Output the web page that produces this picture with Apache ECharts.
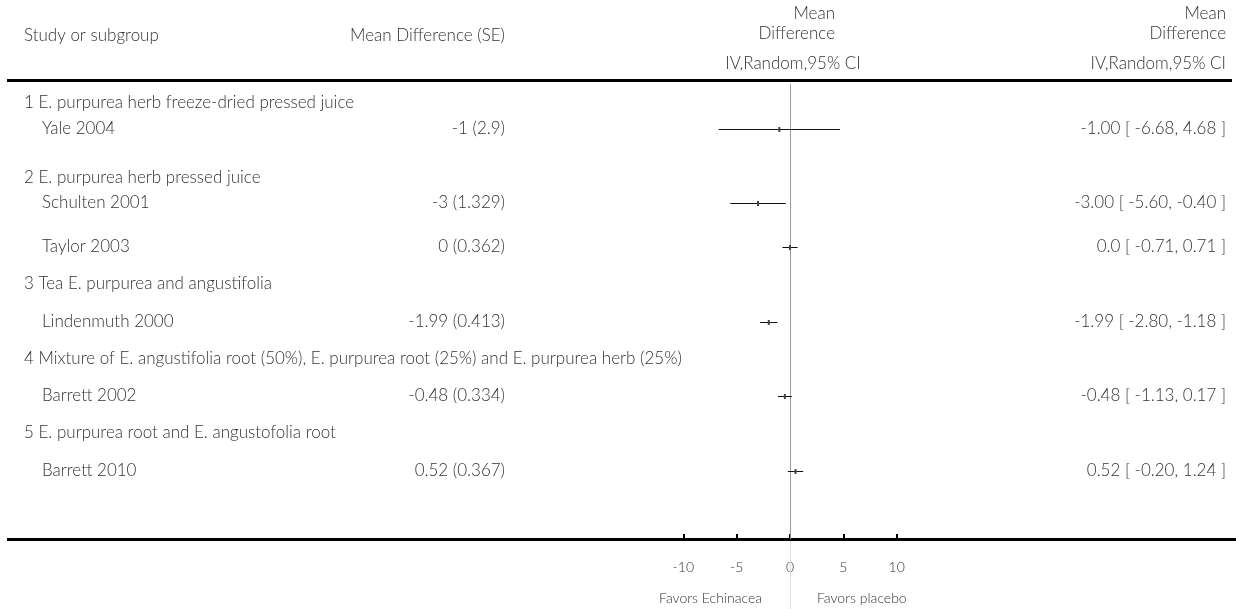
<!DOCTYPE html>
<html><head><meta charset="utf-8">
<script src="https://cdn.jsdelivr.net/npm/echarts@6/dist/echarts.min.js"></script>
<style>html,body{margin:0;padding:0;background:#fff}#chart{width:1236px;height:609px}</style>
</head><body><div id="chart"></div>
<script>
// ---------------- data ----------------
const groupNames = [
  '1 E. purpurea herb freeze-dried pressed juice',
  '2 E. purpurea herb pressed juice',
  '3 Tea E. purpurea and angustifolia',
  '4 Mixture of E. angustifolia root (50%), E. purpurea root (25%) and E. purpurea herb (25%)',
  '5 E. purpurea root and E. angustofolia root'
];
const studyNames = ['Yale 2004', 'Schulten 2001', 'Taylor 2003', 'Lindenmuth 2000', 'Barrett 2002', 'Barrett 2010'];
const studyGroup = [0, 1, 1, 2, 3, 4];
const meanDiff = [-1, -3, 0, -1.99, -0.48, 0.52];
const stdErr = [2.9, 1.329, 0.362, 0.413, 0.334, 0.367];
const ciLow = [-6.68, -5.60, -0.71, -2.80, -1.13, -0.20];
const ciHigh = [4.68, -0.40, 0.71, -1.18, 0.17, 1.24];
const ciText = ['-1.00 [ -6.68, 4.68 ]', '-3.00 [ -5.60, -0.40 ]', '0.0 [ -0.71, 0.71 ]',
                '-1.99 [ -2.80, -1.18 ]', '-0.48 [ -1.13, 0.17 ]', '0.52 [ -0.20, 1.24 ]'];
const xTicks = [-10, -5, 0, 5, 10];

// ---------------- layout ----------------
const FONT = 'Lato, "Open Sans", sans-serif';
const TXT = '#333333';
const BODY = '300 17px ' + FONT;
const SMALL = '300 14px ' + FONT;
const GRID_TOP = 84, GRID_BOTTOM_Y = 539;
// vertical gaps between consecutive rows (pixels on the y scale)
const FIRST_ROW = 103;
const ROW_GAPS = [25.5, 49.5, 25, 44, 37, 37.5, 37.5, 37, 37, 37.5];

const headerRows = [], studyRows = [];
let y = FIRST_ROW, r = 0;
const nextY = () => { if (r > 0) y += ROW_GAPS[r - 1]; r++; return y; };
groupNames.forEach((g, k) => {
  headerRows.push([0, nextY(), k]);
  studyNames.forEach((s, i) => {
    if (studyGroup[i] !== k) return;
    studyRows.push([meanDiff[i], nextY(), ciLow[i], ciHigh[i], i]);
  });
});

const chart = echarts.init(document.getElementById('chart'), null, {renderer: 'canvas'});
const txt = (extra) => Object.assign({fill: TXT, font: BODY, verticalAlign: 'middle'}, extra);

const option = {
  animation: false,
  backgroundColor: '#fff',
  grid: {left: 683.333, right: 1236 - 896.667, top: GRID_TOP, bottom: 609 - GRID_BOTTOM_Y, containLabel: false},
  xAxis: {
    type: 'value', min: xTicks[0], max: xTicks[xTicks.length - 1], interval: 5,
    axisLine: {show: false},
    axisTick: {show: true, inside: true, length: 5, lineStyle: {color: '#000', width: 2}},
    axisLabel: {margin: 21, color: TXT, fontSize: 14, fontWeight: 300, fontFamily: FONT},
    splitLine: {show: false}
  },
  yAxis: {type: 'value', inverse: true, min: GRID_TOP, max: GRID_BOTTOM_Y, show: false},
  series: [
    {
      type: 'custom', clip: false, silent: true, z: 1,
      data: [[0]],
      renderItem: (params, api) => {
        const x = Math.round(api.coord([0, GRID_TOP])[0]) + 0.5;
        const cs = params.coordSys;
        return {type: 'group', children: [
          {type: 'line', shape: {x1: x, y1: cs.y, x2: x, y2: cs.y + cs.height}, style: {stroke: '#9a9a9a', lineWidth: 1}},
          {type: 'line', shape: {x1: x, y1: cs.y + cs.height + 2, x2: x, y2: 609}, style: {stroke: '#dddddd', lineWidth: 1}}
        ]};
      }
    },
    {
      type: 'custom', clip: false, silent: true, z: 2,
      data: headerRows,
      renderItem: (params, api) => {
        const p = api.coord([0, api.value(1)]);
        return {type: 'text', x: 24, y: p[1], style: txt({text: groupNames[api.value(2)]})};
      }
    },
    {
      type: 'custom', clip: false, silent: true, z: 3,
      data: studyRows,
      renderItem: (params, api) => {
        const i = api.value(4);
        const p = api.coord([api.value(0), api.value(1)]);
        const lo = api.coord([api.value(2), api.value(1)]);
        const hi = api.coord([api.value(3), api.value(1)]);
        const yy = Math.round(p[1]) + 0.5;
        return {type: 'group', children: [
          {type: 'line', shape: {x1: lo[0], y1: yy, x2: hi[0], y2: yy}, style: {stroke: '#111', lineWidth: 1}},
          {type: 'rect', shape: {x: p[0] - 1, y: yy - 2.5, width: 2, height: 5}, style: {fill: '#444'}},
          {type: 'text', x: 42, y: p[1], style: txt({text: studyNames[i]})},
          {type: 'text', x: 505, y: p[1], style: txt({text: meanDiff[i] + ' (' + stdErr[i] + ')', align: 'right'})},
          {type: 'text', x: 1226, y: p[1], style: txt({text: ciText[i], align: 'right'})}
        ]};
      }
    }
  ],
  graphic: [
    {type: 'rect', left: 7, top: 79, shape: {width: 1225, height: 3}, style: {fill: '#000'}},
    {type: 'rect', left: 7, top: 538, shape: {width: 1229, height: 3}, style: {fill: '#000'}},
    {type: 'text', x: 24, y: 36, style: txt({text: 'Study or subgroup'})},
    {type: 'text', x: 505, y: 36, style: txt({text: 'Mean Difference (SE)', align: 'right'})},
    {type: 'text', x: 835, y: 14, style: txt({text: 'Mean', align: 'right'})},
    {type: 'text', x: 835, y: 34, style: txt({text: 'Difference', align: 'right'})},
    {type: 'text', x: 793, y: 64, style: txt({text: 'IV,Random,95% CI', align: 'center'})},
    {type: 'text', x: 1226, y: 14, style: txt({text: 'Mean', align: 'right'})},
    {type: 'text', x: 1226, y: 34, style: txt({text: 'Difference', align: 'right'})},
    {type: 'text', x: 1226, y: 64, style: txt({text: 'IV,Random,95% CI', align: 'right'})},
    {type: 'text', x: 762, y: 598, style: txt({text: 'Favors Echinacea', align: 'right', font: SMALL})},
    {type: 'text', x: 817, y: 598, style: txt({text: 'Favors placebo', font: SMALL})}
  ]
};
chart.setOption(option);
</script>
</body></html>
